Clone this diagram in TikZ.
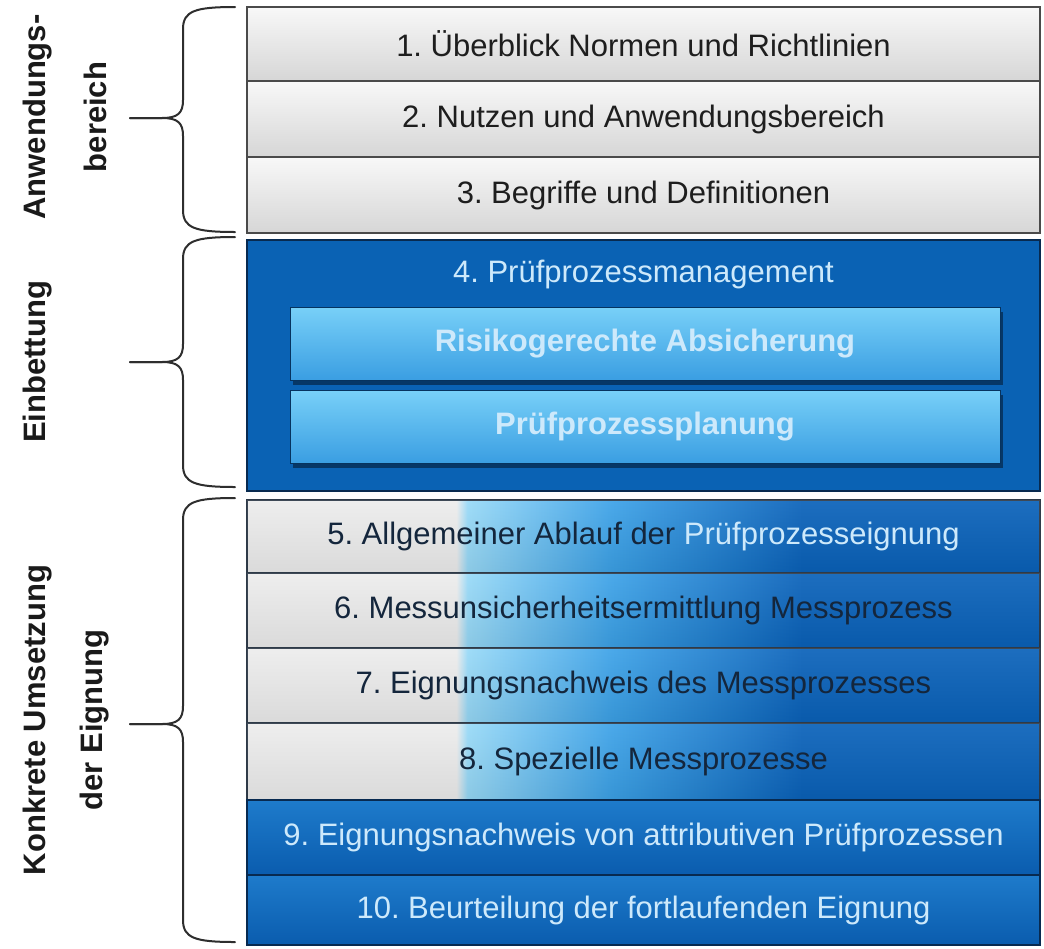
\documentclass[tikz,border=0pt]{standalone}
\usepackage{fontspec}
\setmainfont{Liberation Sans}
\usetikzlibrary{shadows}
\definecolor{lightTop}{HTML}{F8F8F8}
\definecolor{lightMid}{HTML}{EFEFEF}
\definecolor{lightBot}{HTML}{D6D6D6}
\definecolor{rowedge}{HTML}{4A4A4A}
\definecolor{textdark}{HTML}{1E1E1E}
\definecolor{splittext}{HTML}{14263C}
\definecolor{splitedge}{HTML}{2E3A48}
\definecolor{blk}{HTML}{0A62B4}
\definecolor{navy}{HTML}{082A50}
\definecolor{innerTop}{HTML}{78D0F8}
\definecolor{innerBot}{HTML}{3A9EE2}
\definecolor{innershadow}{HTML}{06335F}
\definecolor{bluetext}{HTML}{CDE9FB}
\definecolor{blueTop}{HTML}{1E7BCB}
\definecolor{blueBot}{HTML}{0A5CAE}
\definecolor{lgray}{HTML}{EDEDED}
\definecolor{cyanl}{HTML}{98DAF8}
\definecolor{midb}{HTML}{3CA2E8}
\definecolor{darkb}{HTML}{0A62BA}
\definecolor{labcol}{HTML}{1A1A1A}
\definecolor{bracecol}{HTML}{2E2E2E}
\pgfdeclarehorizontalshading{splitshade}{100bp}{color(0bp)=(lgray); color(38.2bp)=(lgray); color(38.9bp)=(cyanl); color(48bp)=(midb); color(60bp)=(darkb); color(100bp)=(darkb)}
\begin{document}
\frenchspacing
\begin{tikzpicture}[x=1pt,y=-1pt,
  every node/.style={inner sep=0pt, outer sep=0pt},
  rowbase/.style={minimum width=793pt, font=\fontsize{31}{31}\selectfont},
  lightrow/.style={rowbase, draw=rowedge, line width=1.6pt, top color=lightTop, middle color=lightMid, bottom color=lightBot, text=textdark},
  splitrow/.style={rowbase, draw=splitedge, line width=1.8pt, shading=splitshade, text=splittext,
    postaction={top color=white, bottom color=black, fill opacity=0.08}},
  bluerow/.style={rowbase, draw=navy, line width=2.4pt, top color=blueTop, bottom color=blueBot, text=bluetext},
  blockbox/.style={minimum width=793pt, draw=navy, line width=2pt, fill=blk},
  innerbox/.style={minimum width=710pt, minimum height=73pt, draw=innershadow, line width=0.8pt,
    top color=innerTop, bottom color=innerBot, text=bluetext, font=\bfseries\fontsize{31}{31}\selectfont,
    drop shadow={shadow xshift=3pt, shadow yshift=-5pt, fill=innershadow, opacity=0.9}},
  titletext/.style={text=bluetext, font=\fontsize{31}{31}\selectfont},
  sidelab/.style={rotate=90, font=\bfseries\fontsize{31}{31}\selectfont, text=labcol},
  bracestyle/.style={draw=bracecol, line width=2pt, line cap=round, line join=round}
]
\useasboundingbox (0,0) rectangle (1044,948);
\fill[white] (0,0) rectangle (1044,948);

% rows 1-3
\node[lightrow, minimum height=74pt] (r1) at (643.5,44) {1. Überblick Normen und Richtlinien};
\node[lightrow, minimum height=76pt] (r2) at (643.5,119) {2. Nutzen und Anwendungsbereich};
\node[lightrow, minimum height=76pt] (r3) at (643.5,195) {3. Begriffe und Definitionen};

% block 4
\node[blockbox, minimum height=251pt] (b4) at (643.5,365.5) {};
\node[titletext] (t4) at (643.5,274) {4. Prüfprozessmanagement};
\node[innerbox] (i1) at (645,343.5) {Risikogerechte Absicherung};
\node[innerbox] (i2) at (645,426.5) {Prüfprozessplanung};

% rows 5-8
\node[splitrow, minimum height=73pt] (r5) at (643.5,536.5) {5. Allgemeiner Ablauf der {\color{bluetext}Prüfprozesseignung}};
\node[splitrow, minimum height=75pt] (r6) at (643.5,610.5) {6. Messunsicherheitsermittlung Messprozess};
\node[splitrow, minimum height=75pt] (r7) at (643.5,685.5) {7. Eignungsnachweis des Messprozesses};
\node[splitrow, minimum height=77pt] (r8) at (643.5,761.5) {8. Spezielle Messprozesse};

% rows 9-10
\node[bluerow, minimum height=75pt] (r9) at (643.5,837.5) {9. Eignungsnachweis von attributiven Prüfprozessen};
\node[bluerow, minimum height=70pt] (r10) at (643.5,910) {10. Beurteilung der fortlaufenden Eignung};

% braces
\draw[bracestyle] (235,7) .. controls (195,7) and (183,11) .. (183,29) -- (183,100)
  .. controls (183,113) and (178,118) .. (162,118) -- (130,118);
\draw[bracestyle] (130,118) -- (162,118) .. controls (178,118) and (183,123) .. (183,136)
  -- (183,210) .. controls (183,228) and (195,232) .. (235,232);

\draw[bracestyle] (235,237) .. controls (195,237) and (183,241) .. (183,259) -- (183,344)
  .. controls (183,357) and (178,362) .. (162,362) -- (130,362);
\draw[bracestyle] (130,362) -- (162,362) .. controls (178,362) and (183,367) .. (183,380)
  -- (183,465) .. controls (183,483) and (195,487) .. (235,487);

\draw[bracestyle] (235,498) .. controls (195,498) and (183,502) .. (183,520) -- (183,706)
  .. controls (183,719) and (178,724) .. (162,724) -- (130,724);
\draw[bracestyle] (130,724) -- (162,724) .. controls (178,724) and (183,729) .. (183,742)
  -- (183,920) .. controls (183,938) and (195,942) .. (235,942);

% side labels
\node[sidelab] (l1a) at (38,117) {Anwendungs-};
\node[sidelab] (l1b) at (95,117) {bereich};
\node[sidelab] (l2) at (38,362) {Einbettung};
\node[sidelab] (l3a) at (38,720) {Konkrete Umsetzung};
\node[sidelab] (l3b) at (95,720) {der Eignung};
\end{tikzpicture}
\end{document}
